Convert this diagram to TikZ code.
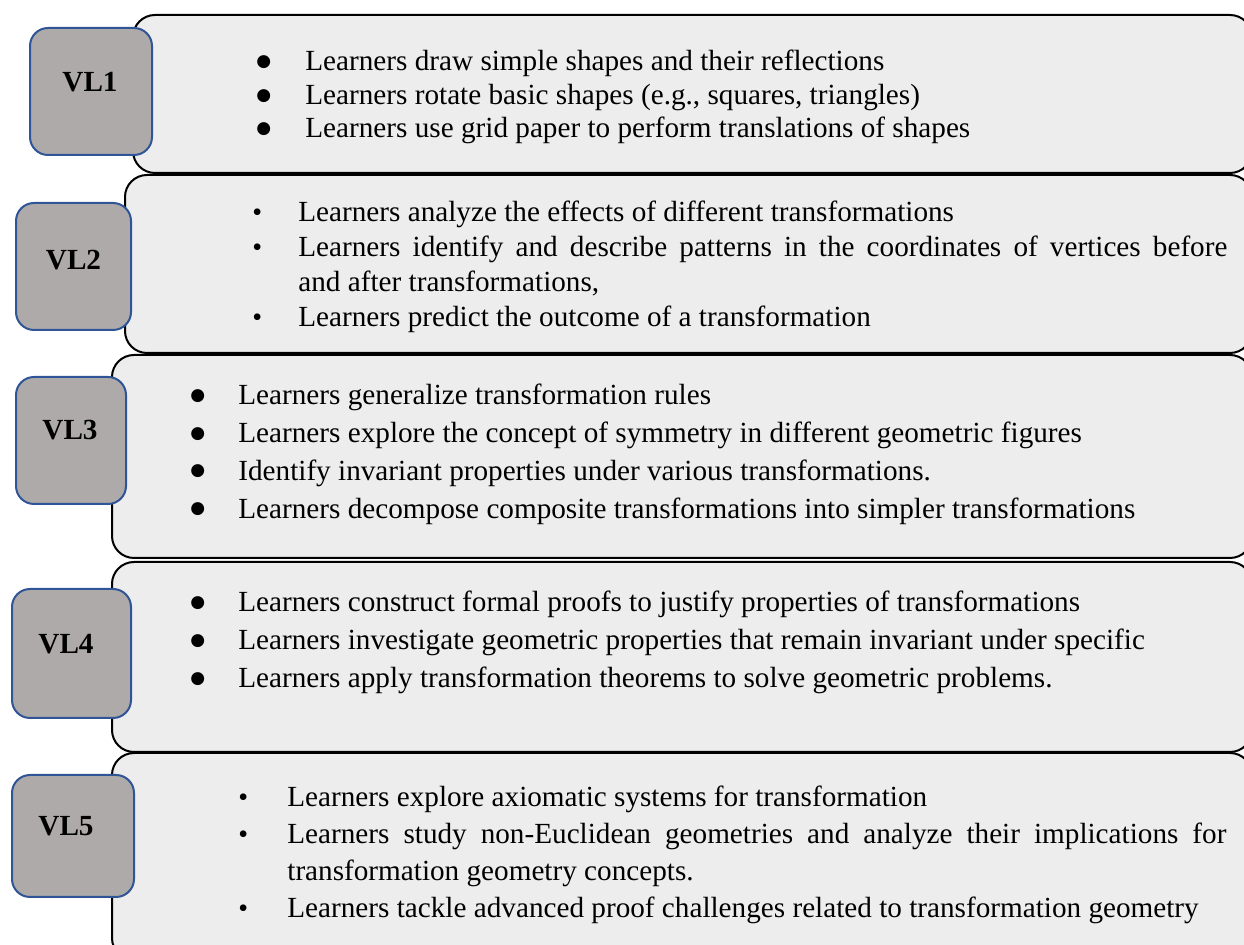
\documentclass[tikz,border=0pt]{standalone}
\usepackage{fontspec}
\setmainfont{Liberation Serif}
\newfontfamily\dotfont{DejaVu Sans}
\usepackage{enumitem}
\usetikzlibrary{positioning}

\definecolor{panelgray}{RGB}{237,237,237}
\definecolor{tabgray}{RGB}{174,170,170}
\definecolor{tabblue}{RGB}{47,85,151}

% bullet glyphs: round ones for VL1/3/4, small ones for VL2/5
\newcommand{\roundbul}{\raisebox{2.2pt}{\dotfont\fontsize{8.5}{9}\selectfont ●}}
\newcommand{\smallbul}{{\fontsize{14}{14}\selectfont\textbullet}}

% #1 bullet, #2 gap bullet->text, #3 width, #4 line pitch
\newenvironment{pointlist}[4]{%
  \begin{minipage}[t]{#3}\fontsize{14.6}{#4}\selectfont
  \begin{itemize}[label=#1, leftmargin=#2, labelwidth=#2, labelsep=0pt,
    align=left, itemsep=0pt, parsep=0pt, topsep=0pt, partopsep=0pt]}
  {\end{itemize}\end{minipage}}

\tikzset{
  panel/.style={draw=black, line width=1pt, fill=panelgray, rounded corners=11pt},
  tab/.style={draw=tabblue, line width=1pt, fill=tabgray, rounded corners=9pt},
  tabtext/.style={font=\fontsize{14.6}{15}\selectfont\bfseries, inner sep=0pt},
  points/.style={anchor=base west, inner sep=0pt}
}

\begin{document}
\begin{tikzpicture}[x=0.5pt,y=-0.5pt]
  \useasboundingbox (0,0) rectangle (1244,945);
  \clip (0,0) rectangle (1244,945);

  % panels
  \draw[panel] (133,15) rectangle (1252,173);
  \draw[panel] (125,175) rectangle (1252,353);
  \draw[panel] (112,355) rectangle (1252,558);
  \draw[panel] (112,562) rectangle (1252,752);
  \draw[panel] (112,753) rectangle (1252,960);

  % level tabs
  \draw[tab] (30,28) rectangle (152,155);
  \draw[tab] (16,203) rectangle (131,330);
  \draw[tab] (16,377) rectangle (126,504);
  \draw[tab] (12,589) rectangle (131,718);
  \draw[tab] (12,775) rectangle (134,897);

  \node[tabtext] (vl1) at (90,82) {VL1};
  \node[tabtext] (vl2) at (73.5,260) {VL2};
  \node[tabtext] (vl3) at (70,430) {VL3};
  \node[tabtext] (vl4) at (66,644) {VL4};
  \node[tabtext] (vl5) at (66,826) {VL5};

  % points of each level
  \node[points] (pts1) at (256,71) {%
    \begin{pointlist}{\roundbul}{24.5pt}{480pt}{16.75pt}
      \item Learners draw simple shapes and their reflections
      \item Learners rotate basic shapes (e.g., squares, triangles)
      \item Learners use grid paper to perform translations of shapes
    \end{pointlist}};
  \node[points] (pts2) at (252,222) {%
    \begin{pointlist}{\smallbul}{23pt}{487.5pt}{17.5pt}
      \item Learners analyze the effects of different transformations
      \item Learners identify and describe patterns in the coordinates of vertices before\linebreak
        and after transformations,
      \item Learners predict the outcome of a transformation
    \end{pointlist}};
  \node[points] (pts3) at (190,405) {%
    \begin{pointlist}{\roundbul}{24pt}{515pt}{18.85pt}
      \item Learners generalize transformation rules
      \item Learners explore the concept of symmetry in different geometric figures
      \item Identify invariant properties under various transformations.
      \item Learners decompose composite transformations into simpler transformations
    \end{pointlist}};
  \node[points] (pts4) at (190,612) {%
    \begin{pointlist}{\roundbul}{24pt}{515pt}{19pt}
      \item Learners construct formal proofs to justify properties of transformations
      \item Learners investigate geometric properties that remain invariant under specific
      \item Learners apply transformation theorems to solve geometric problems.
    \end{pointlist}};
  \node[points] (pts5) at (238,807) {%
    \begin{pointlist}{\smallbul}{24.5pt}{494pt}{18.35pt}
      \item Learners explore axiomatic systems for transformation
      \item Learners study non-Euclidean geometries and analyze their implications for\linebreak
        transformation geometry concepts.
      \item Learners tackle advanced proof challenges related to transformation geometry
    \end{pointlist}};
\end{tikzpicture}
\end{document}
